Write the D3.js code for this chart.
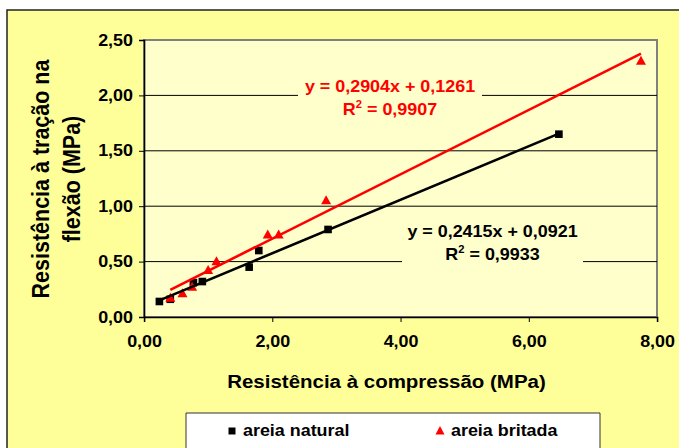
<!DOCTYPE html>
<html>
<head>
<meta charset="utf-8">
<script src="https://cdn.jsdelivr.net/npm/d3@7"></script>
<style>
  html, body { margin: 0; padding: 0; background: #ffffff; }
  svg { display: block; }
  text { font-family: "Liberation Sans", Arial, sans-serif; font-weight: bold; }
</style>
</head>
<body>
<div id="chart"></div>
<script>
// Compressive strength (MPa) vs. flexural tensile strength (MPa)
const naturalX = [0.24, 0.41, 0.77, 0.91, 1.64, 1.79, 2.87, 6.47];
const naturalY = [0.14, 0.16, 0.31, 0.32, 0.45, 0.60, 0.79, 1.65];
const britadaX = [0.41, 0.60, 0.75, 1.00, 1.13, 1.93, 2.10, 2.84, 7.75];
const britadaY = [0.17, 0.21, 0.27, 0.42, 0.50, 0.74, 0.74, 1.05, 2.31];

// Linear trendlines as reported on the chart
const naturalFit = { slope: 0.2415, intercept: 0.0921, r2: "0,9933", eq: "y = 0,2415x + 0,0921" };
const britadaFit = { slope: 0.2904, intercept: 0.1261, r2: "0,9907", eq: "y = 0,2904x + 0,1261" };

const xTicks = [0, 2, 4, 6, 8];
const yTicks = [0, 0.5, 1, 1.5, 2, 2.5];
const seriesNames = ["areia natural", "areia britada"];
const xTitle = "Resistência à compressão (MPa)";
const yTitleLines = ["Resistência à tração na", "flexão (MPa)"];

const fmt = v => v.toFixed(2).replace(".", ",");

// The drawing is laid out on a horizontally widened canvas
const SX = 1.12;
const W = 679, H = 448;
const VW = W / SX;
const px = x => x / SX;

const svg = d3.select("#chart").append("svg")
  .attr("width", W).attr("height", H)
  .attr("viewBox", `0 0 ${VW} ${H}`)
  .attr("preserveAspectRatio", "none");

// Chart area
svg.append("rect")
  .attr("x", px(7)).attr("y", 10)
  .attr("width", VW).attr("height", H)
  .attr("fill", "#FFFF99").attr("stroke", "#222").attr("stroke-width", 1.5)
  .attr("vector-effect", "non-scaling-stroke");

const plot = { left: px(144), right: px(657), top: 40, bottom: 317 };

const x = d3.scaleLinear().domain([0, 8]).range([plot.left, plot.right]);
const y = d3.scaleLinear().domain([0, 2.5]).range([plot.bottom, plot.top]);

// Plot area
svg.append("rect")
  .attr("x", plot.left).attr("y", plot.top)
  .attr("width", plot.right - plot.left).attr("height", plot.bottom - plot.top)
  .attr("fill", "#FFFFCC").attr("stroke", "#808080").attr("stroke-width", 2)
  .attr("vector-effect", "non-scaling-stroke");

// Gridlines
svg.append("g").selectAll("line")
  .data(yTicks.filter(t => t > 0 && t < 2.5))
  .join("line")
  .attr("x1", plot.left).attr("x2", plot.right)
  .attr("y1", d => y(d)).attr("y2", d => y(d))
  .attr("stroke", "#000").attr("stroke-width", 1)
  .attr("vector-effect", "non-scaling-stroke");

// Axes
const xAxis = svg.append("g")
  .attr("transform", `translate(0,${plot.bottom})`)
  .call(d3.axisBottom(x).tickValues(xTicks).tickFormat(fmt).tickSize(5).tickPadding(6));
const yAxis = svg.append("g")
  .attr("transform", `translate(${plot.left},0)`)
  .call(d3.axisLeft(y).tickValues(yTicks).tickFormat(fmt).tickSize(5 / SX).tickPadding(6 / SX));

[xAxis, yAxis].forEach(g => {
  g.select(".domain").attr("stroke", "#000").attr("stroke-width", 1.5).attr("vector-effect", "non-scaling-stroke");
  g.selectAll(".tick line").attr("stroke", "#000").attr("stroke-width", 1).attr("vector-effect", "non-scaling-stroke");
  g.selectAll(".tick text")
    .attr("fill", "#000")
    .style("font-family", '"Liberation Sans", Arial, sans-serif')
    .style("font-weight", "bold")
    .style("font-size", "16px");
});
xAxis.selectAll(".tick text").attr("dy", "1.2em");

// Equation label boxes (cover the gridlines behind the text)
function eqLabel(fit, cx, y1, color, boxL, boxR, boxT, boxB) {
  svg.append("rect")
    .attr("x", px(boxL)).attr("y", boxT)
    .attr("width", px(boxR) - px(boxL)).attr("height", boxB - boxT)
    .attr("fill", "#FFFFCC");
  svg.append("text")
    .attr("x", px(cx)).attr("y", y1)
    .attr("text-anchor", "middle")
    .attr("fill", color).style("font-size", "16px")
    .text(fit.eq);
  const t = svg.append("text")
    .attr("x", px(cx)).attr("y", y1 + 23.5)
    .attr("text-anchor", "middle")
    .attr("fill", color).style("font-size", "16px");
  t.append("tspan").text("R");
  t.append("tspan").attr("dy", -7).style("font-size", "10px").text("2");
  t.append("tspan").attr("dy", 7).text(" = " + fit.r2);
}
eqLabel(britadaFit, 390, 92, "#FF0000", 298, 482, 76, 121);
eqLabel(naturalFit, 492.5, 237, "#000000", 402, 583, 221, 270);

// Trendlines drawn over each series' x range
function trend(xs, fit, color) {
  const ext = d3.extent(xs);
  svg.append("line")
    .attr("x1", x(ext[0])).attr("y1", y(fit.slope * ext[0] + fit.intercept))
    .attr("x2", x(ext[1])).attr("y2", y(fit.slope * ext[1] + fit.intercept))
    .attr("stroke", color).attr("stroke-width", 2.6)
    .attr("vector-effect", "non-scaling-stroke");
}

// Markers
const sq = 7.6;
function squares(g, xs, ys) {
  g.selectAll("rect").data(xs).join("rect")
    .attr("x", (d) => x(d) - px(sq) / 2)
    .attr("y", (d, i) => y(ys[i]) - sq / 2)
    .attr("width", px(sq)).attr("height", sq)
    .attr("fill", "#000");
}
const triPath = (cx, cy) => {
  const hw = px(5), h = 9;
  return `M${cx},${cy - h * 0.6}L${cx + hw},${cy + h * 0.4}L${cx - hw},${cy + h * 0.4}Z`;
};
function triangles(g, xs, ys) {
  g.selectAll("path").data(xs).join("path")
    .attr("d", (d, i) => triPath(x(d), y(ys[i])))
    .attr("fill", "#FF0000");
}

const gNat = svg.append("g");
const gBri = svg.append("g");
squares(gNat, naturalX, naturalY);
triangles(gBri, britadaX, britadaY);
trend(naturalX, naturalFit, "#000000");
trend(britadaX, britadaFit, "#FF0000");

// Axis titles
svg.append("text")
  .attr("x", px(386.5)).attr("y", 388)
  .attr("text-anchor", "middle").attr("fill", "#000")
  .style("font-size", "18.3px")
  .text(xTitle);

yTitleLines.forEach((line, i) => {
  svg.append("text")
    .attr("transform", `translate(${px(i === 0 ? 49 : 80)},179) rotate(-90)`)
    .attr("text-anchor", "middle").attr("fill", "#000")
    .style("font-size", "21.5px")
    .text(line);
});

// Legend
svg.append("rect")
  .attr("x", px(186)).attr("y", 413)
  .attr("width", px(600) - px(186)).attr("height", 50)
  .attr("fill", "#FFFFFF").attr("stroke", "#333").attr("stroke-width", 1)
  .attr("vector-effect", "non-scaling-stroke");
const legY = 431;
svg.append("rect")
  .attr("x", px(232) - px(7) / 2).attr("y", legY - 3.5)
  .attr("width", px(7)).attr("height", 7).attr("fill", "#000");
svg.append("text")
  .attr("x", px(243)).attr("y", 436).attr("fill", "#000")
  .style("font-size", "16px").text(seriesNames[0]);
svg.append("path")
  .attr("d", `M${px(440)},${legY - 5}L${px(444.5)},${legY + 3.5}L${px(435.5)},${legY + 3.5}Z`)
  .attr("fill", "#FF0000");
svg.append("text")
  .attr("x", px(451)).attr("y", 436).attr("fill", "#000")
  .style("font-size", "16px").text(seriesNames[1]);
</script>
</body>
</html>
